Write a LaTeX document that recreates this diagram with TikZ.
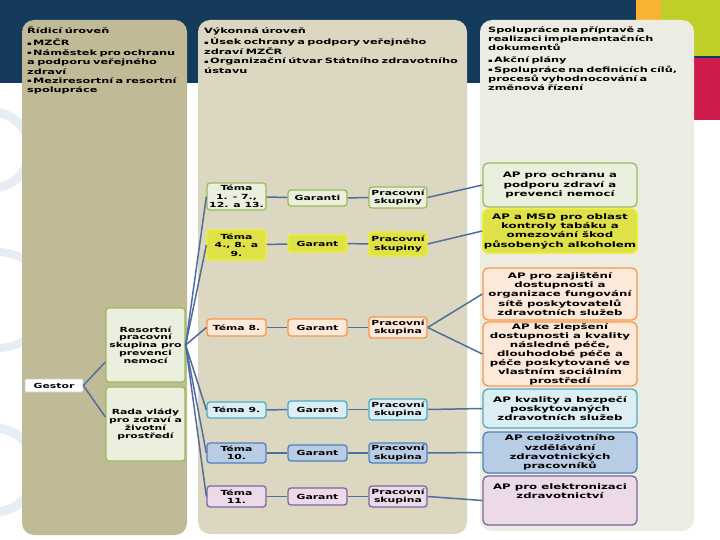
\documentclass[tikz,border=0pt]{standalone}
\usepackage{fontspec}
\setmainfont{DejaVu Sans}[FakeStretch=1.55]
\usetikzlibrary{calc}
\definecolor{navy}{RGB}{20,58,92}
\definecolor{colL}{RGB}{193,186,150}
\definecolor{colM}{RGB}{219,215,193}
\definecolor{colR}{RGB}{237,236,226}
\definecolor{conn}{RGB}{79,110,160}
\definecolor{swirl}{RGB}{230,237,245}
\definecolor{sqO}{RGB}{248,180,50}
\definecolor{sqG}{RGB}{192,206,40}
\definecolor{sqR}{RGB}{206,28,76}
\definecolor{grB}{RGB}{155,187,89}
\definecolor{grF}{RGB}{235,240,222}
\definecolor{yeB}{RGB}{240,240,40}
\definecolor{yeF}{RGB}{222,226,72}
\definecolor{orB}{RGB}{247,150,70}
\definecolor{orF}{RGB}{253,233,217}
\definecolor{lbB}{RGB}{75,172,198}
\definecolor{lbF}{RGB}{219,238,243}
\definecolor{blB}{RGB}{79,129,189}
\definecolor{blF}{RGB}{184,204,228}
\definecolor{puB}{RGB}{128,100,162}
\definecolor{puF}{RGB}{236,218,232}
\newcommand\hitem[1]{\par\hangindent=6pt\hangafter=1\noindent\makebox[6pt][l]{\raisebox{0.6pt}{\fontsize{4.5}{5}\selectfont ▪}}#1}
\begin{document}
\begin{tikzpicture}[x=1pt,y=-1pt,
  hdr/.style={anchor=north west, align=left, inner sep=0pt, font=\bfseries\fontsize{7.3}{9.4}\selectfont},
  box/.style={draw, rounded corners=3pt, line width=1.3pt, align=center, inner sep=1pt,
    font=\bfseries\fontsize{7}{8.4}\selectfont},
  apbox/.style={box, rounded corners=5pt, font=\bfseries\fontsize{7.6}{9.3}\selectfont},
  gr/.style={draw=grB, fill=grF},
  ye/.style={draw=yeB, fill=yeF},
  orr/.style={draw=orB, fill=orF},
  lb/.style={draw=lbB, fill=lbF},
  bl/.style={draw=blB, fill=blF},
  pu/.style={draw=puB, fill=puF},
  cn/.style={draw=conn, line width=1.5pt}]
\useasboundingbox (0,0) rectangle (720,540);
% background
\fill[white] (0,0) rectangle (720,540);
\fill[navy] (0,0) rectangle (720,83);
\fill[sqO] (636,0) rectangle (661,56);
\fill[sqG] (661,0) rectangle (720,56);
\fill[sqR] (680,58) rectangle (720,120);
\begin{scope}
\clip (0,83) rectangle (30,540);
\draw[swirl, line width=9pt] (-8,150) circle (38);
\draw[swirl, line width=8pt] (-2,300) circle (48);
\draw[swirl, line width=9pt] (-6,470) circle (42);
\end{scope}
% columns
\fill[colL, rounded corners=12pt] (22,20) rectangle (187,535);
\fill[colM, rounded corners=12pt] (198,20) rectangle (467,534);
\fill[colR, rounded corners=12pt] (480,20) rectangle (694,531);
% headers
\node[hdr, text width=160pt] (h1) at (27,27) {Řídicí úroveň\par\vspace{2.5pt}
\hitem{MZČR}
\hitem{Náměstek pro ochranu\\a podporu veřejného\\zdraví}
\hitem{Meziresortní a resortní\\spolupráce}};
\node[hdr, text width=262pt] (h2) at (204,27) {Výkonná úroveň\par\vspace{2.5pt}
\hitem{Úsek ochrany a podpory veřejného\\zdraví MZČR}
\hitem{Organizační útvar Státního zdravotního\\ústavu}};
\node[hdr, text width=205pt] (h3) at (488,26) {Spolupráce na přípravě a\\realizaci implementačních\\dokumentů\par\vspace{2.5pt}
\hitem{Akční plány}
\hitem{Spolupráce na definicích cílů,\\procesů vyhodnocování a\\změnová řízení}};
% left nodes
\node[box, draw=gray!40, fill=white, line width=0.6pt, rounded corners=1pt, minimum width=58pt, minimum height=13pt] (gestor) at (54,385.5) {Gestor};
\node[box, gr, minimum width=79pt, minimum height=74pt, font=\bfseries\fontsize{7}{7.8}\selectfont] (res) at (145.5,345) {Resortní\\pracovní\\skupina pro\\prevenci\\nemocí};
\node[box, gr, minimum width=79pt, minimum height=74pt, font=\bfseries\fontsize{7}{8}\selectfont] (rada) at (145.5,424) {Rada vlády\\pro zdraví a\\životní\\prostředí};
% middle nodes
\node[box, gr, minimum width=59pt, minimum height=27pt] (t1) at (236.5,196.5) {Téma\\1. - 7.,\\12. a 13.};
\node[box, gr, minimum width=59pt, minimum height=16pt] (g1) at (317.5,198) {Garanti};
\node[box, gr, minimum width=58pt, minimum height=21pt] (p1) at (398,197.5) {Pracovní\\skupiny};
\node[box, ye, minimum width=59pt, minimum height=30pt] (t2) at (236.5,245) {Téma\\4., 8. a\\9.};
\node[box, ye, minimum width=59pt, minimum height=17pt] (g2) at (317.5,243.5) {Garant};
\node[box, ye, minimum width=58pt, minimum height=24pt] (p2) at (398,244) {Pracovní\\skupiny};
\node[box, orr, minimum width=59pt, minimum height=17pt] (t3) at (236.5,327.5) {Téma 8.};
\node[box, orr, minimum width=59pt, minimum height=17pt] (g3) at (317.5,327.5) {Garant};
\node[box, orr, minimum width=58pt, minimum height=21pt] (p3) at (398,327.5) {Pracovní\\skupina};
\node[box, lb, minimum width=59pt, minimum height=16pt] (t4) at (236.5,410) {Téma 9.};
\node[box, lb, minimum width=59pt, minimum height=17pt] (g4) at (317.5,409.5) {Garant};
\node[box, lb, minimum width=58pt, minimum height=21pt] (p4) at (398,409.5) {Pracovní\\skupina};
\node[box, bl, minimum width=59pt, minimum height=20pt] (t5) at (236.5,453) {Téma\\10.};
\node[box, bl, minimum width=59pt, minimum height=16pt] (g5) at (317.5,453) {Garant};
\node[box, bl, minimum width=58pt, minimum height=20pt] (p5) at (398,453) {Pracovní\\skupina};
\node[box, pu, minimum width=59pt, minimum height=21pt] (t6) at (236.5,496.5) {Téma\\11.};
\node[box, pu, minimum width=59pt, minimum height=17pt] (g6) at (317.5,496.5) {Garant};
\node[box, pu, minimum width=58pt, minimum height=21pt] (p6) at (398,496.5) {Pracovní\\skupina};
% right nodes
\node[apbox, gr, minimum width=154pt, minimum height=44pt] (a1) at (560,185) {AP pro ochranu a\\podporu zdraví a\\prevenci nemocí};
\node[apbox, ye, minimum width=154pt, minimum height=44pt] (a2) at (560,231) {AP a MSD pro oblast\\kontroly tabáku a\\omezování škod\\působených alkoholem};
\node[apbox, orr, minimum width=154pt, minimum height=52pt] (a3) at (560,294) {AP pro zajištění\\dostupnosti a\\organizace fungování\\sítě poskytovatelů\\zdravotních služeb};
\node[apbox, orr, minimum width=154pt, minimum height=64pt, font=\bfseries\fontsize{7.6}{9}\selectfont] (a4) at (560,354) {AP ke zlepšení\\dostupnosti a kvality\\následné péče,\\dlouhodobé péče a\\péče poskytované ve\\vlastním sociálním\\prostředí};
\node[apbox, lb, minimum width=154pt, minimum height=39pt] (a5) at (560,408.5) {AP kvality a bezpečí\\poskytovaných\\zdravotních služeb};
\node[apbox, bl, minimum width=154pt, minimum height=41pt] (a6) at (560,452.5) {AP celoživotního\\vzdělávání\\zdravotnických\\pracovníků};
\node[apbox, pu, minimum width=154pt, minimum height=49pt] (a7) at (560,500.5) {AP pro elektronizaci\\zdravotnictví\\\mbox{}\\\mbox{}};
% connectors
\draw[cn] (gestor.east) -- ([yshift=-17pt]res.west);
\draw[cn] (gestor.east) -- ([yshift=7pt]rada.west);
\foreach \t in {t1,t2,t3,t4,t5,t6}{\draw[cn] (res.east) -- (\t.west);}
\foreach \i in {1,...,6}{\draw[cn] (t\i) -- (g\i); \draw[cn] (g\i) -- (p\i);}
\draw[cn] (p1.east) -- (a1.west);
\draw[cn] (p2.east) -- (a2.west);
\draw[cn] (p3.east) -- (a3.west);
\draw[cn] (p3.east) -- (a4.west);
\draw[cn] (p4.east) -- (a5.west);
\draw[cn] (p5.east) -- (a6.west);
\draw[cn] (p6.east) -- (a7.west);
\end{tikzpicture}
\end{document}
